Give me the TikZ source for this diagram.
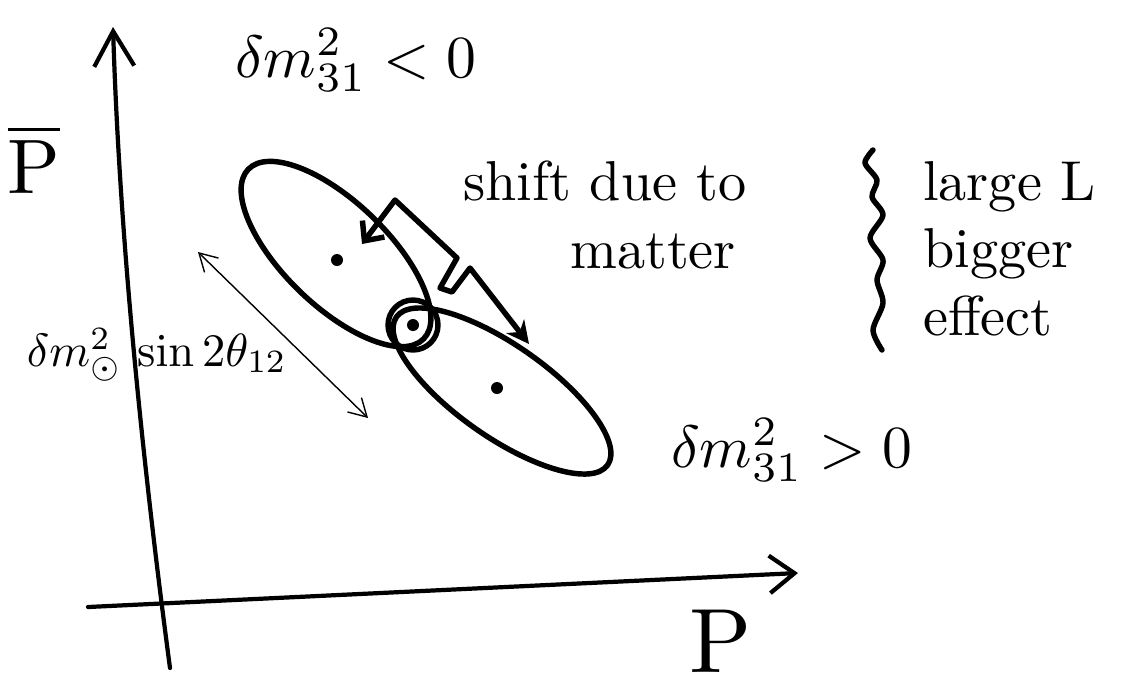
\documentclass[tikz,border=0pt]{standalone}
\usetikzlibrary{arrows.meta}

\begin{document}
\begin{tikzpicture}[
    x=0.02cm, y=-0.02cm,
    pen/.style={line width=3.1pt, line cap=round, line join=round},
    axis/.style={line width=2.4pt, line cap=round, -{Straight Barb[length=0.7cm, width=0.8cm]}},
    thin arrow/.style={line width=0.8pt, {Straight Barb[length=0.35cm, width=0.4cm]}-{Straight Barb[length=0.35cm, width=0.4cm]}},
    shift arrow/.style={pen, {Straight Barb[length=0.3cm, width=0.55cm]}-{Stealth[length=0.45cm, width=0.45cm]}},
    dot/.style={circle, fill, inner sep=0pt, minimum size=0.24cm},
    lbl/.style={scale=3.4, transform shape, inner sep=0pt},
    note/.style={scale=3.2, transform shape, inner sep=0pt, align=left}
]
\useasboundingbox (0,0) rectangle (1141,681);

% Axes
\coordinate (ybot) at (170,668);
\coordinate (ytop) at (113,27);
\coordinate (xleft) at (88,607);
\coordinate (xright) at (798,573);
\draw[axis] (ybot) .. controls (145,480) and (120,250) .. (ytop);
\draw[axis, -{Straight Barb[length=0.5cm, width=0.75cm]}] (xleft) -- (xright);

% Axis labels
\node[lbl, scale=4.4/3.4, anchor=base west] (pbar) at (6,193) {$\overline{\mathrm{P}}$};
\node[lbl, scale=5.2/3.4, anchor=base west] (p) at (688,672) {$\mathrm{P}$};

% Allowed regions
\draw[pen, rotate around={-44:(336,254)}] (336,254) ellipse [x radius=2.44cm, y radius=1.04cm];
\draw[pen, rotate around={-35:(502,391)}] (502,391) ellipse [x radius=2.58cm, y radius=0.92cm];
\node[dot] (upc) at (337,260) {};
\node[dot] (lowc) at (497,388) {};

% Solar point
\node[dot] (sun) at (413,325) {};
\draw[pen] (sun) circle [radius=0.5cm];

% Solar width
\coordinate (wa) at (198,252);
\coordinate (wb) at (368,418);
\draw[thin arrow] (wa) -- (wb);
\node[lbl, scale=2.65/3.4, anchor=base west] (width) at (26,366) {$\delta m^2_{\odot}\,\sin 2\theta_{12}$};

% Mass hierarchy labels
\node[lbl, anchor=base west] (neg) at (234,77) {$\delta m^2_{31}<0$};
\node[lbl, anchor=base west] (pos) at (670,467) {$\delta m^2_{31}>0$};

% Matter shift
\coordinate (tail) at (362,244);
\coordinate (head) at (529,344);
\draw[shift arrow] (tail) -- (395,200) -- (457,258) -- (440,288) -- (452,292) -- (470,268) -- (head);
\node[note, anchor=north west] (shift) at (462,160) {shift due to\\\hspace*{0.67cm}matter};

% Baseline remark
\draw[pen] plot[smooth] coordinates {(873,150) (865,163) (877,180) (872,197) (883,215) (870,238) (883,260) (877,280) (883,303) (873,330) (882,350)};
\node[note, anchor=north west] (large) at (922,160) {large L\\bigger\\effect};

\end{tikzpicture}
\end{document}
